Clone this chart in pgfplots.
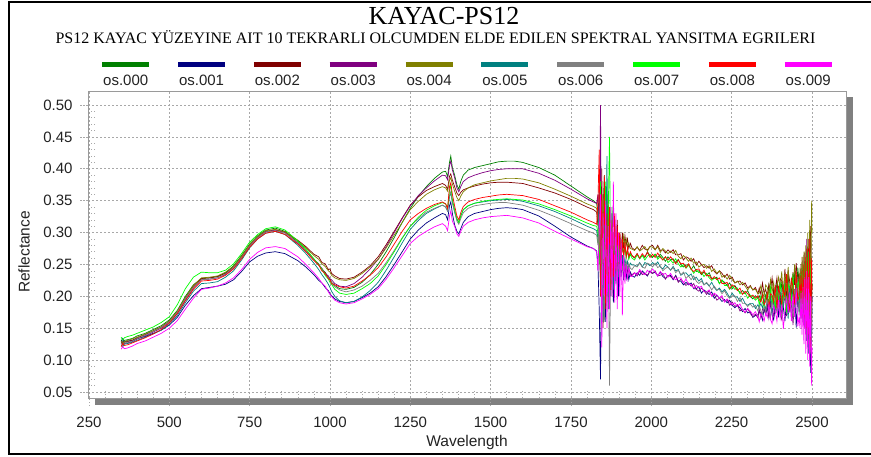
\documentclass[border=0pt]{standalone}
\usepackage{fontspec}
\setmainfont{Liberation Serif}
\newfontfamily\arial{Liberation Sans}
\usepackage{pgfplots}
\usepackage{pgfplotstable}
\pgfplotsset{compat=1.18}
\definecolor{c0}{HTML}{008000}
\definecolor{c1}{HTML}{000080}
\definecolor{c2}{HTML}{800000}
\definecolor{c3}{HTML}{800080}
\definecolor{c4}{HTML}{808000}
\definecolor{c5}{HTML}{008080}
\definecolor{c6}{HTML}{808080}
\definecolor{c7}{HTML}{00FF00}
\definecolor{c8}{HTML}{FF0000}
\definecolor{c9}{HTML}{FF00FF}
\definecolor{gridc}{HTML}{A8A8A8}
\definecolor{framec}{HTML}{9A9A9A}
\definecolor{shadowc}{HTML}{808080}
\definecolor{txt}{HTML}{222222}

\pgfplotstableread{
wl s0 s1 s2 s3 s4 s5 s6 s7 s8 s9
350 0.132 0.128 0.129 0.125 0.130 0.124 0.127 0.136 0.121 0.117
355 0.127 0.134 0.124 0.129 0.126 0.121 0.123 0.131 0.126 0.121
360 0.131 0.129 0.128 0.126 0.129 0.125 0.127 0.135 0.123 0.118
370 0.132 0.130 0.129 0.127 0.131 0.126 0.128 0.137 0.124 0.119
385 0.134 0.131 0.131 0.129 0.133 0.128 0.130 0.139 0.127 0.122
400 0.138 0.134 0.135 0.133 0.136 0.131 0.134 0.142 0.130 0.126
425 0.142 0.137 0.140 0.138 0.141 0.136 0.139 0.147 0.135 0.130
450 0.148 0.142 0.146 0.144 0.146 0.141 0.145 0.152 0.141 0.136
475 0.154 0.147 0.152 0.150 0.152 0.147 0.151 0.159 0.148 0.142
500 0.163 0.155 0.161 0.159 0.161 0.156 0.160 0.168 0.158 0.150
525 0.178 0.167 0.176 0.173 0.177 0.170 0.175 0.187 0.173 0.162
550 0.200 0.186 0.197 0.194 0.198 0.190 0.196 0.212 0.193 0.180
575 0.218 0.201 0.216 0.213 0.217 0.208 0.214 0.230 0.211 0.197
600 0.228 0.212 0.228 0.226 0.229 0.220 0.226 0.238 0.224 0.211
625 0.229 0.214 0.229 0.227 0.230 0.221 0.227 0.237 0.225 0.213
650 0.231 0.216 0.231 0.229 0.232 0.223 0.229 0.237 0.227 0.216
675 0.237 0.219 0.236 0.234 0.238 0.230 0.235 0.241 0.233 0.221
700 0.248 0.226 0.246 0.244 0.247 0.240 0.245 0.251 0.243 0.229
725 0.264 0.239 0.262 0.261 0.263 0.257 0.261 0.267 0.259 0.242
750 0.282 0.254 0.280 0.279 0.281 0.276 0.279 0.285 0.277 0.258
775 0.295 0.263 0.293 0.292 0.294 0.290 0.292 0.297 0.290 0.269
800 0.304 0.268 0.302 0.301 0.303 0.299 0.301 0.306 0.299 0.276
830 0.307 0.270 0.304 0.304 0.305 0.302 0.303 0.309 0.302 0.278
860 0.302 0.267 0.301 0.300 0.301 0.297 0.299 0.304 0.297 0.275
900 0.285 0.256 0.288 0.283 0.287 0.280 0.284 0.287 0.282 0.262
925 0.272 0.246 0.278 0.271 0.276 0.267 0.271 0.274 0.270 0.250
950 0.258 0.234 0.266 0.258 0.264 0.252 0.258 0.259 0.256 0.237
965 0.251 0.225 0.262 0.249 0.258 0.242 0.250 0.249 0.249 0.228
975 0.242 0.221 0.253 0.244 0.251 0.234 0.243 0.243 0.240 0.221
985 0.238 0.214 0.251 0.236 0.247 0.227 0.235 0.233 0.236 0.216
995 0.230 0.209 0.242 0.232 0.240 0.219 0.230 0.227 0.228 0.207
1000 0.228 0.204 0.243 0.227 0.238 0.214 0.225 0.222 0.226 0.203
1005 0.222 0.201 0.236 0.226 0.233 0.208 0.221 0.219 0.220 0.200
1015 0.217 0.196 0.232 0.220 0.229 0.200 0.215 0.211 0.218 0.194
1030 0.212 0.192 0.228 0.216 0.226 0.193 0.210 0.205 0.215 0.190
1050 0.211 0.190 0.227 0.215 0.225 0.190 0.207 0.203 0.213 0.188
1075 0.214 0.192 0.230 0.220 0.228 0.192 0.210 0.205 0.216 0.190
1100 0.222 0.198 0.238 0.230 0.236 0.199 0.216 0.212 0.224 0.196
1125 0.234 0.205 0.248 0.243 0.246 0.209 0.225 0.220 0.233 0.203
1150 0.250 0.215 0.262 0.258 0.258 0.222 0.236 0.232 0.245 0.212
1175 0.270 0.231 0.281 0.278 0.276 0.241 0.253 0.250 0.262 0.227
1200 0.292 0.250 0.302 0.300 0.296 0.262 0.272 0.270 0.282 0.245
1225 0.316 0.270 0.323 0.322 0.316 0.284 0.292 0.291 0.302 0.264
1250 0.338 0.290 0.343 0.342 0.336 0.305 0.310 0.310 0.320 0.283
1275 0.357 0.304 0.356 0.358 0.349 0.319 0.322 0.324 0.330 0.294
1300 0.372 0.315 0.366 0.370 0.360 0.330 0.332 0.335 0.338 0.302
1325 0.385 0.323 0.372 0.381 0.367 0.337 0.338 0.342 0.344 0.309
1350 0.395 0.330 0.377 0.390 0.372 0.343 0.343 0.347 0.348 0.314
1360 0.396 0.328 0.374 0.389 0.370 0.340 0.340 0.345 0.345 0.310
1366 0.388 0.320 0.368 0.383 0.365 0.334 0.334 0.338 0.338 0.303
1372 0.410 0.342 0.388 0.405 0.382 0.356 0.358 0.366 0.372 0.326
1376 0.420 0.348 0.392 0.412 0.386 0.362 0.364 0.374 0.378 0.334
1381 0.402 0.330 0.382 0.398 0.376 0.348 0.346 0.352 0.360 0.318
1388 0.390 0.312 0.372 0.386 0.365 0.332 0.333 0.336 0.342 0.310
1395 0.375 0.302 0.362 0.370 0.355 0.320 0.318 0.322 0.326 0.298
1401 0.368 0.298 0.358 0.364 0.350 0.316 0.313 0.316 0.320 0.294
1407 0.380 0.306 0.363 0.372 0.357 0.326 0.322 0.326 0.331 0.302
1415 0.390 0.316 0.367 0.380 0.364 0.336 0.331 0.336 0.341 0.310
1430 0.398 0.325 0.370 0.386 0.370 0.342 0.338 0.342 0.348 0.316
1450 0.402 0.330 0.373 0.390 0.375 0.346 0.342 0.346 0.352 0.320
1475 0.405 0.333 0.376 0.394 0.378 0.348 0.344 0.349 0.355 0.323
1500 0.408 0.336 0.378 0.397 0.381 0.350 0.346 0.351 0.357 0.325
1525 0.411 0.338 0.379 0.399 0.383 0.351 0.347 0.352 0.359 0.326
1550 0.412 0.339 0.379 0.400 0.385 0.352 0.347 0.353 0.360 0.327
1575 0.412 0.338 0.378 0.400 0.385 0.351 0.345 0.352 0.359 0.325
1600 0.410 0.336 0.377 0.400 0.384 0.349 0.343 0.351 0.358 0.323
1650 0.402 0.326 0.370 0.393 0.378 0.342 0.335 0.345 0.352 0.315
1700 0.390 0.310 0.362 0.382 0.368 0.333 0.325 0.336 0.342 0.302
1750 0.373 0.293 0.352 0.368 0.357 0.322 0.314 0.326 0.332 0.290
1800 0.356 0.279 0.340 0.353 0.345 0.310 0.303 0.315 0.320 0.278
1820 0.350 0.275 0.336 0.348 0.341 0.306 0.299 0.311 0.316 0.275
1830 0.345 0.271 0.332 0.346 0.338 0.303 0.296 0.310 0.313 0.270
1834 0.330 0.250 0.310 0.360 0.320 0.290 0.280 0.300 0.350 0.240
1838 0.280 0.180 0.380 0.250 0.260 0.350 0.330 0.250 0.430 0.300
1842 0.360 0.070 0.220 0.500 0.340 0.220 0.200 0.380 0.200 0.360
1846 0.200 0.300 0.400 0.180 0.200 0.300 0.350 0.180 0.360 0.120
1850 0.340 0.200 0.150 0.360 0.330 0.160 0.230 0.360 0.250 0.330
1854 0.390 0.330 0.330 0.240 0.210 0.330 0.160 0.220 0.390 0.200
1858 0.220 0.160 0.240 0.350 0.350 0.240 0.310 0.380 0.180 0.350
1862 0.330 0.290 0.360 0.200 0.240 0.420 0.220 0.200 0.330 0.150
1866 0.250 0.180 0.200 0.330 0.360 0.200 0.300 0.330 0.220 0.310
1870 0.340 0.320 0.320 0.230 0.230 0.300 0.060 0.450 0.340 0.180
1874 0.230 0.200 0.240 0.310 0.320 0.230 0.280 0.220 0.210 0.340
1878 0.310 0.330 0.300 0.220 0.220 0.330 0.200 0.340 0.320 0.200
1882 0.240 0.190 0.230 0.300 0.300 0.210 0.300 0.230 0.230 0.380
1886 0.320 0.280 0.310 0.240 0.240 0.300 0.220 0.310 0.330 0.190
1890 0.250 0.220 0.250 0.290 0.310 0.230 0.290 0.240 0.240 0.330
1894 0.300 0.300 0.320 0.230 0.250 0.280 0.210 0.300 0.310 0.180
1898 0.260 0.200 0.260 0.280 0.300 0.230 0.270 0.250 0.250 0.300
1902 0.290 0.270 0.300 0.240 0.260 0.270 0.230 0.290 0.300 0.200
1906 0.260 0.230 0.270 0.270 0.290 0.240 0.260 0.260 0.250 0.290
1910 0.285 0.260 0.300 0.240 0.270 0.265 0.240 0.280 0.290 0.170
1914 0.265 0.225 0.275 0.260 0.295 0.245 0.255 0.265 0.260 0.265
1918 0.280 0.250 0.295 0.235 0.280 0.260 0.240 0.275 0.285 0.220
1922 0.262 0.228 0.280 0.250 0.290 0.245 0.255 0.262 0.262 0.250
1926 0.272 0.242 0.290 0.232 0.278 0.255 0.243 0.272 0.276 0.228
1930 0.260 0.226 0.275 0.245 0.284 0.244 0.252 0.258 0.262 0.245
1935 0.268 0.238 0.283 0.232 0.275 0.252 0.244 0.266 0.270 0.232
1940 0.264 0.232 0.276 0.234 0.274 0.249 0.242 0.260 0.264 0.231
1948 0.260 0.230 0.273 0.237 0.272 0.249 0.248 0.257 0.261 0.237
1956 0.267 0.237 0.277 0.232 0.278 0.247 0.246 0.265 0.267 0.234
1964 0.259 0.233 0.272 0.240 0.271 0.253 0.252 0.259 0.260 0.242
1972 0.265 0.240 0.280 0.234 0.274 0.246 0.246 0.264 0.267 0.237
1980 0.261 0.236 0.274 0.236 0.278 0.253 0.244 0.257 0.262 0.234
1988 0.270 0.232 0.273 0.233 0.271 0.251 0.252 0.263 0.269 0.241
1996 0.264 0.240 0.278 0.239 0.278 0.248 0.250 0.266 0.261 0.237
2004 0.261 0.236 0.280 0.236 0.277 0.253 0.246 0.262 0.266 0.243
2012 0.266 0.238 0.273 0.240 0.273 0.249 0.252 0.266 0.261 0.238
2020 0.261 0.232 0.280 0.232 0.278 0.254 0.245 0.258 0.268 0.232
2028 0.266 0.238 0.272 0.233 0.269 0.246 0.248 0.263 0.261 0.239
2036 0.261 0.231 0.273 0.236 0.275 0.243 0.240 0.257 0.257 0.234
2044 0.255 0.228 0.268 0.227 0.271 0.249 0.244 0.262 0.262 0.236
2052 0.262 0.232 0.273 0.233 0.267 0.246 0.246 0.253 0.257 0.230
2060 0.257 0.233 0.269 0.231 0.271 0.241 0.241 0.257 0.262 0.236
2068 0.259 0.226 0.273 0.227 0.267 0.247 0.245 0.252 0.257 0.229
2076 0.253 0.233 0.265 0.232 0.272 0.240 0.237 0.259 0.251 0.226
2084 0.258 0.224 0.265 0.222 0.263 0.242 0.241 0.251 0.257 0.229
2092 0.250 0.224 0.267 0.227 0.259 0.233 0.234 0.246 0.251 0.229
2100 0.246 0.218 0.257 0.222 0.264 0.236 0.238 0.250 0.252 0.221
2108 0.249 0.222 0.262 0.217 0.260 0.237 0.228 0.244 0.245 0.227
2116 0.250 0.218 0.260 0.221 0.255 0.232 0.232 0.249 0.251 0.219
2124 0.242 0.221 0.255 0.216 0.260 0.235 0.226 0.243 0.243 0.219
2132 0.248 0.212 0.259 0.220 0.252 0.226 0.232 0.236 0.239 0.213
2140 0.239 0.212 0.249 0.211 0.254 0.230 0.224 0.242 0.242 0.217
2148 0.240 0.215 0.255 0.208 0.246 0.224 0.220 0.237 0.243 0.213
2156 0.234 0.205 0.250 0.213 0.249 0.228 0.224 0.238 0.235 0.216
2164 0.238 0.210 0.245 0.209 0.250 0.218 0.218 0.231 0.241 0.207
2172 0.233 0.207 0.248 0.203 0.244 0.221 0.222 0.236 0.232 0.207
2180 0.237 0.203 0.244 0.209 0.248 0.216 0.217 0.229 0.233 0.210
2188 0.228 0.207 0.248 0.201 0.239 0.222 0.210 0.225 0.227 0.200
2196 0.228 0.197 0.239 0.203 0.243 0.214 0.216 0.228 0.231 0.205
2204 0.230 0.202 0.235 0.194 0.236 0.209 0.210 0.228 0.226 0.202
2212 0.220 0.197 0.240 0.197 0.240 0.213 0.211 0.220 0.229 0.197
2220 0.225 0.192 0.236 0.198 0.230 0.207 0.204 0.226 0.220 0.201
2228 0.222 0.195 0.230 0.192 0.233 0.211 0.209 0.217 0.220 0.191
2236 0.217 0.190 0.235 0.195 0.227 0.205 0.201 0.217 0.222 0.196
2244 0.221 0.194 0.227 0.186 0.233 0.198 0.197 0.211 0.212 0.191
2252 0.212 0.186 0.230 0.191 0.226 0.205 0.201 0.216 0.218 0.187
2260 0.217 0.182 0.221 0.184 0.221 0.199 0.201 0.211 0.215 0.190
2268 0.211 0.186 0.223 0.187 0.224 0.199 0.192 0.213 0.209 0.184
2276 0.206 0.182 0.224 0.177 0.218 0.192 0.198 0.204 0.213 0.188
2284 0.209 0.176 0.218 0.180 0.222 0.197 0.189 0.204 0.203 0.179
2292 0.204 0.181 0.221 0.174 0.216 0.189 0.189 0.206 0.208 0.175
2300 0.209 0.174 0.213 0.181 0.210 0.186 0.184 0.197 0.204 0.181
2308 0.200 0.176 0.217 0.173 0.216 0.189 0.188 0.202 0.199 0.177
2316 0.196 0.167 0.210 0.168 0.210 0.189 0.183 0.199 0.202 0.171
2324 0.201 0.170 0.214 0.172 0.211 0.181 0.186 0.194 0.197 0.176
2332 0.197 0.171 0.204 0.166 0.204 0.187 0.177 0.198 0.201 0.168
2336 0.201 0.178 0.213 0.179 0.205 0.182 0.186 0.187 0.195 0.160
2341 0.193 0.173 0.203 0.166 0.217 0.189 0.177 0.200 0.191 0.173
2346 0.206 0.163 0.221 0.180 0.205 0.182 0.172 0.190 0.202 0.168
2351 0.188 0.181 0.205 0.178 0.199 0.194 0.185 0.184 0.187 0.161
2356 0.202 0.172 0.211 0.172 0.218 0.177 0.176 0.198 0.192 0.174
2361 0.191 0.182 0.200 0.190 0.214 0.195 0.194 0.205 0.205 0.167
2366 0.217 0.168 0.219 0.166 0.203 0.181 0.183 0.188 0.181 0.187
2371 0.198 0.191 0.210 0.189 0.226 0.201 0.166 0.214 0.204 0.164
2376 0.187 0.171 0.229 0.180 0.206 0.173 0.195 0.191 0.202 0.157
2381 0.211 0.163 0.203 0.169 0.222 0.193 0.181 0.199 0.191 0.185
2386 0.196 0.184 0.212 0.190 0.194 0.177 0.194 0.183 0.217 0.178
2391 0.222 0.193 0.229 0.178 0.215 0.212 0.173 0.209 0.182 0.161
2396 0.205 0.167 0.193 0.207 0.230 0.186 0.206 0.196 0.215 0.194
2401 0.181 0.207 0.228 0.174 0.212 0.172 0.178 0.222 0.202 0.166
2406 0.223 0.173 0.224 0.164 0.239 0.203 0.168 0.187 0.187 0.187
2411 0.201 0.183 0.208 0.202 0.201 0.182 0.195 0.197 0.214 0.149
2416 0.220 0.161 0.243 0.192 0.236 0.217 0.207 0.221 0.198 0.178
2421 0.191 0.197 0.197 0.169 0.208 0.195 0.173 0.175 0.235 0.197
2426 0.235 0.180 0.241 0.213 0.246 0.165 0.223 0.219 0.193 0.174
2431 0.197 0.212 0.222 0.175 0.195 0.216 0.179 0.213 0.180 0.206
2436 0.184 0.167 0.203 0.203 0.229 0.190 0.193 0.193 0.227 0.161
2441 0.219 0.181 0.238 0.155 0.202 0.212 0.166 0.236 0.215 0.203
2446 0.235 0.211 0.218 0.191 0.250 0.177 0.210 0.180 0.187 0.168
2451 0.190 0.151 0.252 0.214 0.216 0.229 0.187 0.232 0.239 0.213
2456 0.245 0.206 0.210 0.184 0.194 0.184 0.227 0.210 0.194 0.153
2460 0.222 0.176 0.236 0.205 0.208 0.210 0.170 0.228 0.200 0.168
2463 0.190 0.205 0.212 0.175 0.245 0.175 0.200 0.190 0.232 0.150
2466 0.238 0.165 0.250 0.228 0.200 0.215 0.165 0.235 0.190 0.205
2469 0.200 0.215 0.205 0.180 0.262 0.168 0.215 0.185 0.240 0.140
2472 0.245 0.160 0.262 0.240 0.195 0.225 0.158 0.245 0.175 0.215
2475 0.185 0.232 0.200 0.170 0.270 0.160 0.225 0.178 0.250 0.125
2478 0.255 0.150 0.270 0.255 0.185 0.240 0.150 0.252 0.165 0.230
2481 0.180 0.250 0.190 0.160 0.280 0.150 0.238 0.170 0.262 0.110
2484 0.262 0.130 0.275 0.290 0.175 0.255 0.135 0.262 0.150 0.240
2487 0.170 0.270 0.180 0.150 0.300 0.120 0.250 0.160 0.275 0.100
2490 0.275 0.110 0.290 0.240 0.160 0.270 0.125 0.270 0.140 0.230
2493 0.160 0.260 0.170 0.130 0.320 0.100 0.240 0.180 0.290 0.090
2496 0.290 0.080 0.310 0.200 0.200 0.220 0.110 0.250 0.120 0.200
2499 0.180 0.170 0.200 0.140 0.350 0.140 0.190 0.210 0.260 0.060
2500 0.220 0.200 0.220 0.200 0.300 0.180 0.200 0.220 0.210 0.120
}\spec

\begin{document}
\begin{tikzpicture}
\useasboundingbox (0,0) rectangle (871bp,457bp);
% outer frame
\draw[black, line width=2bp] (875bp,454.5bp) -- (9bp,454.5bp) -- (9bp,2.5bp) -- (875bp,2.5bp);
% shadow
\fill[shadowc] (95bp,52bp) rectangle (853bp,58.5bp);
\fill[shadowc] (846.5bp,52bp) rectangle (853bp,360bp);
% titles
\node[anchor=base, font=\fontsize{26bp}{30bp}\selectfont, inner sep=0pt] at (444bp,432bp) {KAYAC-PS12};
\node[anchor=base, font=\fontsize{16bp}{19bp}\selectfont, inner sep=0pt] at (435.5bp,413bp) {PS12 KAYAC YÜZEYINE AIT 10 TEKRARLI OLCUMDEN ELDE EDILEN SPEKTRAL YANSITMA EGRILERI};
\begin{axis}[
  at={(88bp,59bp)}, anchor=south west,
  scale only axis, width=758bp, height=307bp,
  xmin=247, xmax=2606, ymin=0.0406, ymax=0.522,
  xtick={250,500,750,1000,1250,1500,1750,2000,2250,2500},
  ytick={0.05,0.10,0.15,0.20,0.25,0.30,0.35,0.40,0.45,0.50},
  minor x tick num=4, minor y tick num=4,
  tick pos=left,
  grid=major,
  major grid style={gridc, dash pattern=on 2bp off 2bp, line width=0.6bp},
  axis line style={framec, line width=0.8bp},
  tick align=outside, major tick length=8bp, minor tick length=-7bp,
  every tick/.style={gridc, dash pattern=on 1.5bp off 1.5bp, line width=0.6bp},
  tick label style={font=\arial\fontsize{15bp}{18bp}\selectfont, text=txt},
  /pgf/number format/assume math mode=true,
  xticklabel style={/pgf/number format/set thousands separator={}, yshift=-10bp, inner sep=1bp},
  yticklabel style={/pgf/number format/.cd, fixed, fixed zerofill, precision=2, /tikz/xshift=-4bp},
  xlabel={Wavelength}, ylabel={Reflectance},
  label style={font=\arial\fontsize{15.5bp}{18bp}\selectfont, text=txt, inner sep=1bp},
  xlabel style={at={(axis description cs:0.5,-0.146)}, anchor=center},
  ylabel style={at={(axis description cs:-0.0844,0.4756)}, anchor=center},
  legend columns=10,
  legend style={at={(axis description cs:0.5,1)}, anchor=south, yshift=1.5bp,
    draw=none, fill=none, font=\arial\fontsize{15bp}{18bp}\selectfont,
    nodes={inner sep=0pt, text=txt}, column sep=0pt,
    /tikz/every even column/.append style={column sep=30.8bp}},
  legend image code/.code={\draw[#1, line width=5bp, overlay] (-1bp,17bp) -- (46bp,17bp);},
  every axis plot/.append style={line width=0.7bp},
]
\addplot[c0] table[x=wl,y=s0]{\spec};
\addplot[c1] table[x=wl,y=s1]{\spec};
\addplot[c2] table[x=wl,y=s2]{\spec};
\addplot[c3] table[x=wl,y=s3]{\spec};
\addplot[c4] table[x=wl,y=s4]{\spec};
\addplot[c5] table[x=wl,y=s5]{\spec};
\addplot[c6] table[x=wl,y=s6]{\spec};
\addplot[c7] table[x=wl,y=s7]{\spec};
\addplot[c8] table[x=wl,y=s8]{\spec};
\addplot[c9] table[x=wl,y=s9]{\spec};
\legend{os.000,os.001,os.002,os.003,os.004,os.005,os.006,os.007,os.008,os.009}
\end{axis}
\end{tikzpicture}
\end{document}
